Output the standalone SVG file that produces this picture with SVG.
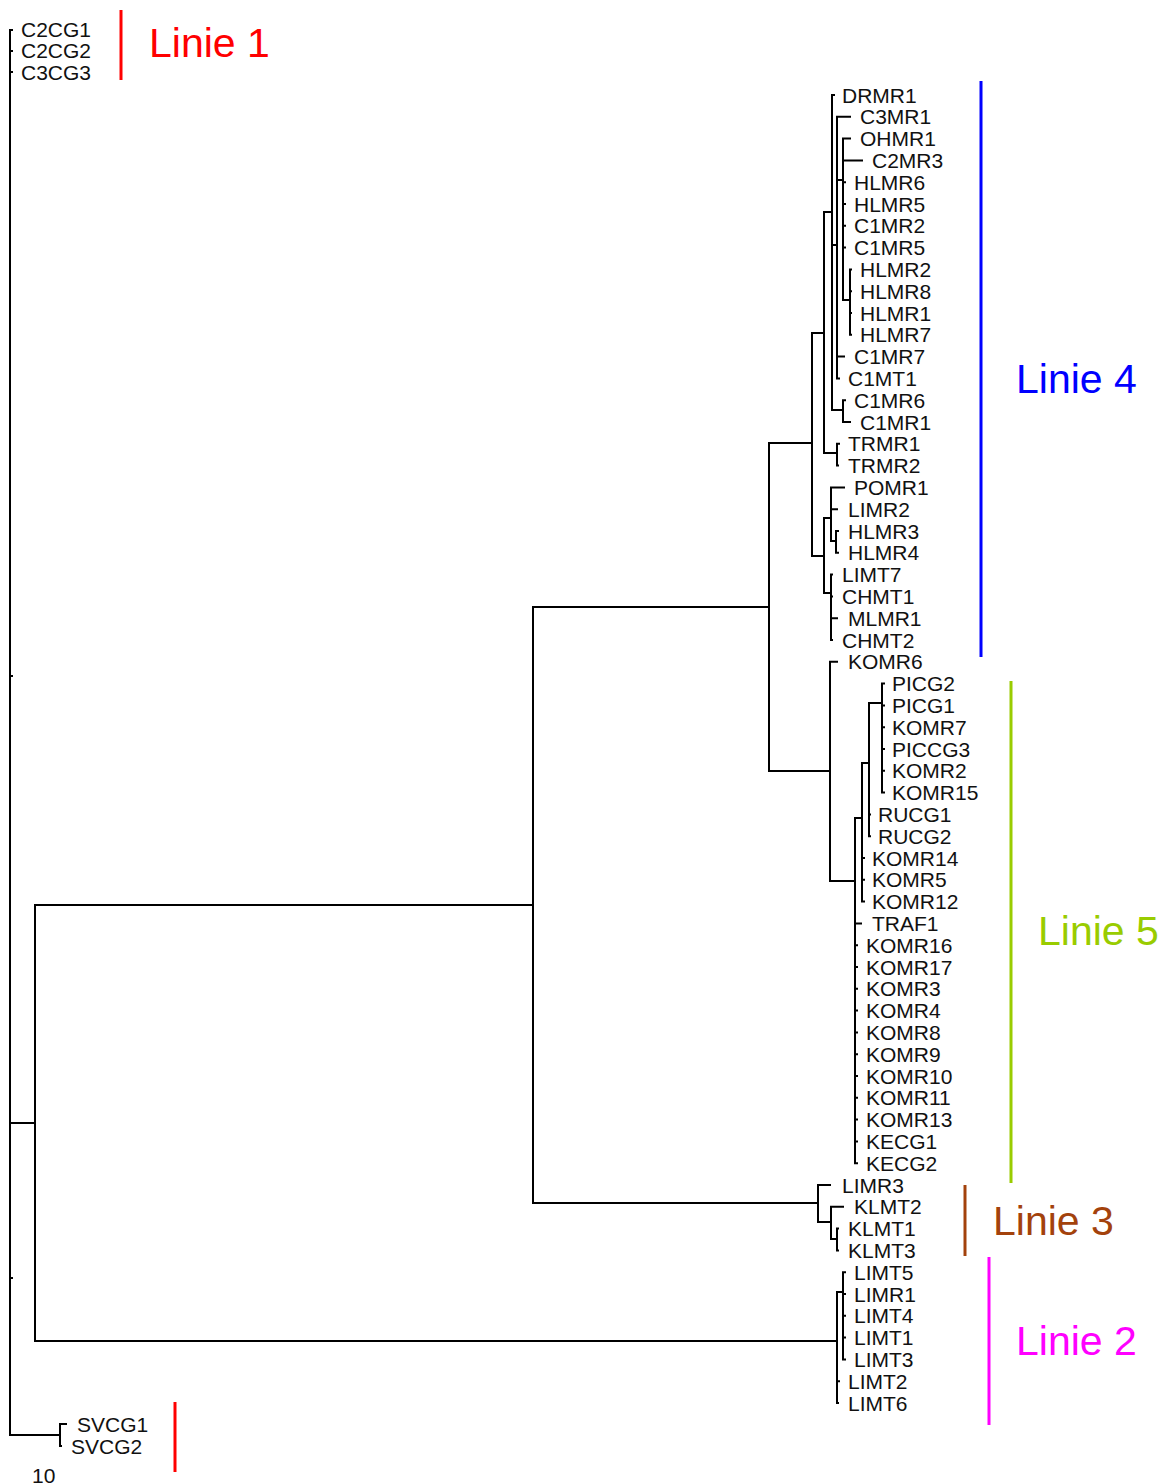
<svg xmlns="http://www.w3.org/2000/svg" width="1176" height="1483" viewBox="0 0 1176 1483">
<style>
.t{font-family:"Liberation Sans",Arial,sans-serif;font-size:21px;fill:#111}
.br{fill:none;stroke:#000;stroke-width:2;stroke-linecap:square}
.lab{font-family:"Liberation Sans",Arial,sans-serif;font-size:41px}
.bar{stroke-width:3;fill:none}
</style>
<rect width="1176" height="1483" fill="#fff"/>
<g id="connectors" class="br">
<path d="M10,30 V1435 M10,30 H12 M10,51 H12 M10,72 H12 M10,676 H12 M10,1278 H12"/>
<path d="M10,1123 H35 M35,905 V1341 M35,905 H533 M35,1341 H837"/>
<path d="M10,1435 H60 M60,1424 V1446 M60,1424 H66 M60,1446 H61"/>
<path d="M533,607 V1203 M533,607 H769 M533,1203 H818"/>
<path d="M769,443 V771 M769,443 H812 M769,771 H830"/>
<path d="M812,333 V556 M812,333 H824 M812,556 H824"/>
<path d="M824,212 V453 M824,212 H832 M824,453 H837"/>
<path d="M832,95 V410 M832,95 H834 M832,245 H837 M832,410 H843"/>
<path d="M837,116.8 V378.4 M837,116.8 H850 M837,180 H843 M837,356.6 H844 M837,378.4 H839"/>
<path d="M843,138.6 V300 M843,138.6 H850 M843,160.4 H862 M843,182.2 H845 M843,204 H845 M843,225.8 H845 M843,247.6 H845 M843,300 H850"/>
<path d="M850,269.4 V334.8 M850,269.4 H851 M850,291.2 H851 M850,313 H851 M850,334.8 H851"/>
<path d="M843,400.2 V422 M843,400.2 H845 M843,422 H850"/>
<path d="M837,443.8 V465.6 M837,443.8 H839 M837,465.6 H838"/>
<path d="M824,518 V593 M824,518 H831 M824,593 H831"/>
<path d="M831,487.4 V541 M831,487.4 H844 M831,509.2 H837 M831,541 H836"/>
<path d="M836,531 V552.8 M836,531 H838 M836,552.8 H838"/>
<path d="M831,574.6 V640 M831,574.6 H832 M831,596.4 H832 M831,618.2 H837 M831,640 H832"/>
<path d="M830,661.8 V881 M830,661.8 H837 M830,881 H855"/>
<path d="M855,818 V1163.2 M855,818 H862 M855,923.4 H861 M855,945.2 H857 M855,967 H857 M855,988.8 H857 M855,1010.6 H857 M855,1032.4 H857 M855,1054.2 H857 M855,1076 H857 M855,1097.8 H857 M855,1119.6 H857 M855,1141.4 H857 M855,1163.2 H857"/>
<path d="M862,763 V901.6 M862,763 H869 M862,858 H864 M862,879.8 H864 M862,901.6 H864"/>
<path d="M869,703 V836.2 M869,703 H882 M869,814.4 H870 M869,836.2 H870"/>
<path d="M882,683.6 V792.6 M882,683.6 H884 M882,705.4 H884 M882,727.2 H884 M882,749 H884 M882,770.8 H884 M882,792.6 H884"/>
<path d="M818,1185 V1222 M818,1185 H830 M818,1222 H831"/>
<path d="M831,1206.8 V1239 M831,1206.8 H843 M831,1239 H837"/>
<path d="M837,1228.6 V1250.4 M837,1228.6 H838 M837,1250.4 H838"/>
<path d="M837,1292 V1403 M837,1292 H843 M837,1381.2 H839 M837,1403 H838"/>
<path d="M843,1272.2 V1359.4 M843,1272.2 H845 M843,1294 H845 M843,1315.8 H845 M843,1337.6 H845 M843,1359.4 H845"/>
</g>
<g id="leaves" class="t">
<g id="n-C2CG1"><text x="21" y="37">C2CG1</text></g>
<g id="n-C2CG2"><text x="21" y="58">C2CG2</text></g>
<g id="n-C3CG3"><text x="21" y="79.5">C3CG3</text></g>
<g id="n-DRMR1"><text x="842" y="102.5">DRMR1</text></g>
<g id="n-C3MR1"><text x="860" y="124.3">C3MR1</text></g>
<g id="n-OHMR1"><text x="860" y="146.1">OHMR1</text></g>
<g id="n-C2MR3"><text x="872" y="167.9">C2MR3</text></g>
<g id="n-HLMR6"><text x="854" y="189.7">HLMR6</text></g>
<g id="n-HLMR5"><text x="854" y="211.5">HLMR5</text></g>
<g id="n-C1MR2"><text x="854" y="233.3">C1MR2</text></g>
<g id="n-C1MR5"><text x="854" y="255.1">C1MR5</text></g>
<g id="n-HLMR2"><text x="860" y="276.9">HLMR2</text></g>
<g id="n-HLMR8"><text x="860" y="298.7">HLMR8</text></g>
<g id="n-HLMR1"><text x="860" y="320.5">HLMR1</text></g>
<g id="n-HLMR7"><text x="860" y="342.3">HLMR7</text></g>
<g id="n-C1MR7"><text x="854" y="364.1">C1MR7</text></g>
<g id="n-C1MT1"><text x="848" y="385.9">C1MT1</text></g>
<g id="n-C1MR6"><text x="854" y="407.7">C1MR6</text></g>
<g id="n-C1MR1"><text x="860" y="429.5">C1MR1</text></g>
<g id="n-TRMR1"><text x="848" y="451.3">TRMR1</text></g>
<g id="n-TRMR2"><text x="848" y="473.1">TRMR2</text></g>
<g id="n-POMR1"><text x="854" y="494.9">POMR1</text></g>
<g id="n-LIMR2"><text x="848" y="516.7">LIMR2</text></g>
<g id="n-HLMR3"><text x="848" y="538.5">HLMR3</text></g>
<g id="n-HLMR4"><text x="848" y="560.3">HLMR4</text></g>
<g id="n-LIMT7"><text x="842" y="582.1">LIMT7</text></g>
<g id="n-CHMT1"><text x="842" y="603.9">CHMT1</text></g>
<g id="n-MLMR1"><text x="848" y="625.7">MLMR1</text></g>
<g id="n-CHMT2"><text x="842" y="647.5">CHMT2</text></g>
<g id="n-KOMR6"><text x="848" y="669.3">KOMR6</text></g>
<g id="n-PICG2"><text x="892" y="691.1">PICG2</text></g>
<g id="n-PICG1"><text x="892" y="712.9">PICG1</text></g>
<g id="n-KOMR7"><text x="892" y="734.7">KOMR7</text></g>
<g id="n-PICCG3"><text x="892" y="756.5">PICCG3</text></g>
<g id="n-KOMR2"><text x="892" y="778.3">KOMR2</text></g>
<g id="n-KOMR15"><text x="892" y="800.1">KOMR15</text></g>
<g id="n-RUCG1"><text x="878" y="821.9">RUCG1</text></g>
<g id="n-RUCG2"><text x="878" y="843.7">RUCG2</text></g>
<g id="n-KOMR14"><text x="872" y="865.5">KOMR14</text></g>
<g id="n-KOMR5"><text x="872" y="887.3">KOMR5</text></g>
<g id="n-KOMR12"><text x="872" y="909.1">KOMR12</text></g>
<g id="n-TRAF1"><text x="872" y="930.9">TRAF1</text></g>
<g id="n-KOMR16"><text x="866" y="952.7">KOMR16</text></g>
<g id="n-KOMR17"><text x="866" y="974.5">KOMR17</text></g>
<g id="n-KOMR3"><text x="866" y="996.3">KOMR3</text></g>
<g id="n-KOMR4"><text x="866" y="1018.1">KOMR4</text></g>
<g id="n-KOMR8"><text x="866" y="1039.9">KOMR8</text></g>
<g id="n-KOMR9"><text x="866" y="1061.7">KOMR9</text></g>
<g id="n-KOMR10"><text x="866" y="1083.5">KOMR10</text></g>
<g id="n-KOMR11"><text x="866" y="1105.3">KOMR11</text></g>
<g id="n-KOMR13"><text x="866" y="1127.1">KOMR13</text></g>
<g id="n-KECG1"><text x="866" y="1148.9">KECG1</text></g>
<g id="n-KECG2"><text x="866" y="1170.7">KECG2</text></g>
<g id="n-LIMR3"><text x="842" y="1192.5">LIMR3</text></g>
<g id="n-KLMT2"><text x="854" y="1214.3">KLMT2</text></g>
<g id="n-KLMT1"><text x="848" y="1236.1">KLMT1</text></g>
<g id="n-KLMT3"><text x="848" y="1257.9">KLMT3</text></g>
<g id="n-LIMT5"><text x="854" y="1279.7">LIMT5</text></g>
<g id="n-LIMR1"><text x="854" y="1301.5">LIMR1</text></g>
<g id="n-LIMT4"><text x="854" y="1323.3">LIMT4</text></g>
<g id="n-LIMT1"><text x="854" y="1345.1">LIMT1</text></g>
<g id="n-LIMT3"><text x="854" y="1366.9">LIMT3</text></g>
<g id="n-LIMT2"><text x="848" y="1388.7">LIMT2</text></g>
<g id="n-LIMT6"><text x="848" y="1410.5">LIMT6</text></g>
<g id="n-SVCG1"><text x="77" y="1431.5">SVCG1</text></g>
<g id="n-SVCG2"><text x="71" y="1453.5">SVCG2</text></g>
<g id="scale"><text x="32" y="1483">10</text></g>
</g>
<g id="lineages">
<g id="linie1"><line class="bar" x1="121" y1="10" x2="121" y2="80" stroke="#ff0000"/><text class="lab" x="149" y="57" fill="#ff0000">Linie 1</text></g>
<g id="linie1b"><line class="bar" x1="175" y1="1402" x2="175" y2="1472" stroke="#ff0000"/></g>
<g id="linie4"><line class="bar" x1="981" y1="81" x2="981" y2="657" stroke="#0000ff"/><text class="lab" x="1016" y="393" fill="#0000ff">Linie 4</text></g>
<g id="linie5"><line class="bar" x1="1011" y1="681" x2="1011" y2="1183" stroke="#99cc00"/><text class="lab" x="1038" y="945" fill="#99cc00">Linie 5</text></g>
<g id="linie3"><line class="bar" x1="965" y1="1185" x2="965" y2="1256" stroke="#a3420c"/><text class="lab" x="993" y="1235" fill="#a3420c">Linie 3</text></g>
<g id="linie2"><line class="bar" x1="989" y1="1257" x2="989" y2="1425" stroke="#ff00ff"/><text class="lab" x="1016" y="1355" fill="#ff00ff">Linie 2</text></g>
</g>
</svg>
